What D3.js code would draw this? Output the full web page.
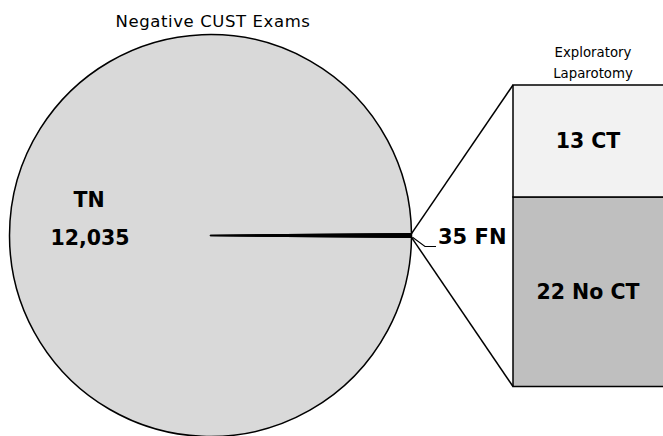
<!DOCTYPE html>
<html><head><meta charset="utf-8">
<script src="https://cdn.jsdelivr.net/npm/d3@7"></script>
<style>html,body{margin:0;padding:0;background:#fff;overflow:hidden}</style>
</head><body>
<svg id="chart" width="663" height="436"></svg>
<script>
// Data
const pieLabels = ["TN", "FN"];
const pieValues = [12035, 35];
const barLabels = ["No CT", "CT"];
const barValues = [22, 13];
const titleText = "Negative CUST Exams";
const barTitle = ["Exploratory", "Laparotomy"];

const svg = d3.select("#chart");
const W = 663, H = 436;
svg.append("rect").attr("width", W).attr("height", H).attr("fill", "#fff");

const cx = 210.5, cy = 235.5, r = 201;
const total = d3.sum(pieValues);
const thFN = pieValues[1] / total * 2 * Math.PI;
const start = -1.5 * Math.PI + thFN / 2;

const pie = d3.pie().sort(null).value(d => d).startAngle(start).endAngle(start + 2 * Math.PI);
const arcs = pie(pieValues);
const arc = d3.arc().innerRadius(0).outerRadius(r);
const g = svg.append("g").attr("transform", `translate(${cx},${cy})`);
const pieFills = ["#d9d9d9", "#000000"];
g.selectAll("path").data(arcs).join("path")
  .attr("d", arc)
  .attr("fill", (d, i) => pieFills[i])
  .attr("stroke", "#000").attr("stroke-width", 1.5).attr("stroke-linejoin", "round");

// Bar of pie
const barX0 = 513, barX1 = 664;
const y = d3.scaleLinear().domain([0, d3.sum(barValues)]).range([386.5, 85]);
const stacked = [];
let acc = 0;
barValues.forEach((v, i) => { stacked.push({label: barLabels[i], v, y0: acc, y1: acc + v}); acc += v; });
const barFills = ["#bfbfbf", "#f2f2f2"];
svg.selectAll("rect.bar").data(stacked).join("rect").attr("class", "bar")
  .attr("x", barX0).attr("width", barX1 - barX0)
  .attr("y", d => y(d.y1)).attr("height", d => y(d.y0) - y(d.y1))
  .attr("fill", (d, i) => barFills[i])
  .attr("stroke", "#000").attr("stroke-width", 1.5);

// connector lines from FN slice edges to bar corners
const fn = arcs[1];
const pt = a => [cx + r * Math.sin(a), cy - r * Math.cos(a)];
const pTop = pt(fn.startAngle), pBot = pt(fn.endAngle);
svg.append("line").attr("x1", pTop[0]).attr("y1", pTop[1]).attr("x2", barX0).attr("y2", y(acc))
  .attr("stroke", "#000").attr("stroke-width", 1.5);
svg.append("line").attr("x1", pBot[0]).attr("y1", pBot[1]).attr("x2", barX0).attr("y2", y(0))
  .attr("stroke", "#000").attr("stroke-width", 1.5);

const font = "'DejaVu Sans', sans-serif";
// Title
svg.append("text").attr("x", 213).attr("y", 27).attr("text-anchor", "middle")
  .attr("font-family", font).attr("font-size", 16.5).attr("letter-spacing", 0.6).attr("fill", "#000").text(titleText);
// bar title
barTitle.forEach((t, i) => svg.append("text").attr("x", 593).attr("y", 57 + i * 21).attr("text-anchor", "middle")
  .attr("font-family", font).attr("font-size", 13.3).attr("fill", "#000").text(t));

// TN labels
svg.append("text").attr("x", 89).attr("y", 206.5).attr("text-anchor", "middle")
  .attr("font-family", font).attr("font-weight", "bold").attr("font-size", 20.5).attr("fill", "#000").text(pieLabels[0]);
svg.append("text").attr("x", 90).attr("y", 245).attr("text-anchor", "middle")
  .attr("font-family", font).attr("font-weight", "bold").attr("font-size", 20.5).attr("fill", "#000")
  .text(d3.format(",")(pieValues[0]));

// FN label & leader
const mid = pt((fn.startAngle + fn.endAngle) / 2 + 0.004);
svg.append("polyline").attr("points", [[mid[0] + 1, mid[1] + 1], [425, 246.5], [436, 246.5]].map(p => p.join(",")).join(" "))
  .attr("fill", "none").attr("stroke", "#000").attr("stroke-width", 1.2);
svg.append("text").attr("x", 438).attr("y", 244).attr("font-family", font).attr("font-weight", "bold")
  .attr("font-size", 21).attr("fill", "#000").text(pieValues[1] + " " + pieLabels[1]);

// bar labels
svg.selectAll("text.bl").data(stacked).join("text").attr("class", "bl")
  .attr("x", (barX0 + 663) / 2)
  .attr("y", d => (y(d.y0) + y(d.y1)) / 2 + 7.5)
  .attr("text-anchor", "middle").attr("font-family", font).attr("font-weight", "bold")
  .attr("font-size", 20.5).attr("fill", "#000").text(d => d.v + " " + d.label);
</script>
</body></html>
